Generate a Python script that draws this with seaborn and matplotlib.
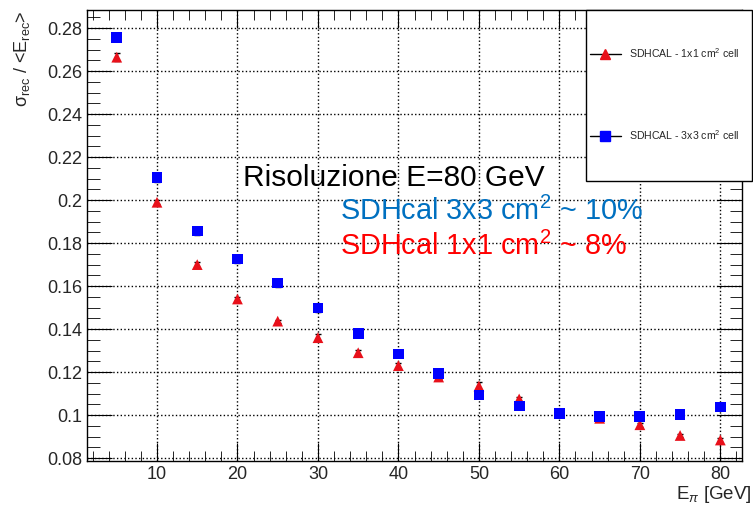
import seaborn as sns
import matplotlib.pyplot as plt
from matplotlib.ticker import MultipleLocator
from matplotlib.patches import Rectangle
import pandas as pd

# beam energies (GeV)
energy = [5, 10, 15, 20, 25, 30, 35, 40, 45, 50, 55, 60, 65, 70, 75, 80]

# resolution, 1x1 cm2 cells (red triangles)
res_1x1 = [0.2665, 0.199, 0.170, 0.154, 0.1437, 0.136, 0.129, 0.123,
           0.1177, 0.1135, 0.1075, 0.101, 0.0985, 0.0955, 0.0905, 0.0884]
err_1x1 = [0.002, 0.001, 0.001, 0.001, 0.0007, 0.0015, 0.0015, 0.001,
           0.001, 0.002, 0.001, 0.001, 0.0007, 0.001, 0.0007, 0.0007]

# resolution, 3x3 cm2 cells (blue squares)
res_3x3 = [0.2758, 0.2105, 0.1856, 0.1726, 0.1614, 0.1498, 0.1381, 0.1284,
           0.1193, 0.1093, 0.1042, 0.1009, 0.0993, 0.0993, 0.1003, 0.1037]
err_3x3 = [0.002, 0.002, 0.002, 0.002, 0.002, 0.002, 0.002, 0.001,
           0.001, 0.001, 0.001, 0.001, 0.001, 0.001, 0.001, 0.0015]

labels = ["SDHCAL - 1x1 cm$^2$ cell", "SDHCAL - 3x3 cm$^2$ cell"]
df = pd.DataFrame({"E": energy * 2,
                   "res": res_1x1 + res_3x3,
                   "cell": [labels[0]] * len(energy) + [labels[1]] * len(energy)})

sns.set_style("ticks")
plt.rcParams["font.family"] = ["Liberation Sans", "DejaVu Sans"]
plt.rcParams["mathtext.fontset"] = "custom"
plt.rcParams["mathtext.rm"] = "Liberation Sans"
plt.rcParams["mathtext.it"] = "Liberation Sans:italic"

fig = plt.figure(figsize=(7.53, 5.05), dpi=100)
ax = fig.add_axes([0.1155, 0.087, 0.870, 0.893])

# error bars
ax.errorbar(energy, res_1x1, yerr=err_1x1, fmt="none", ecolor="black",
            elinewidth=1, capsize=2.5, zorder=2)
ax.errorbar(energy, res_3x3, yerr=err_3x3, fmt="none", ecolor="black",
            elinewidth=1, capsize=2.5, zorder=2)

sns.scatterplot(data=df, x="E", y="res", hue="cell", style="cell",
                palette=["#e8101a", "#0000ff"], markers=["^", "s"],
                s=[60], linewidth=0, legend=False, ax=ax, zorder=3)

ax.set_xlim(1.3, 82.7)
ax.xaxis.set_major_locator(MultipleLocator(10))
ax.xaxis.set_minor_locator(MultipleLocator(2))
ax.yaxis.set_major_locator(MultipleLocator(0.02))
ax.yaxis.set_minor_locator(MultipleLocator(0.005))
ax.set_ylim(0.0786, 0.2884)
ax.yaxis.set_major_formatter(lambda v, pos: f"{v:g}")
ax.tick_params(which="both", direction="in", top=True, right=True,
               labelsize=13, color="black")
ax.tick_params(axis="x", which="major", length=13)
ax.tick_params(axis="x", which="minor", length=7)
ax.tick_params(axis="y", which="major", length=18)
ax.tick_params(axis="y", which="minor", length=9)
ax.grid(True, which="major", linestyle=":", color="black", linewidth=1)
for sp in ax.spines.values():
    sp.set_color("black")
    sp.set_linewidth(1)

ax.set_xlabel("E$_{\\pi}$ [GeV]", fontsize=13.5, loc="right")
ax.xaxis.set_label_coords(1.015, -0.05)
ax.set_ylabel("σ$_{\\mathrm{rec}}$ / <E$_{\\mathrm{rec}}$>", fontsize=13,
              loc="top", labelpad=11)

# legend box in the upper right corner
h1 = plt.Line2D([], [], color="black", lw=1, marker="^", ms=6.5,
                mfc="#e8101a", mec="#e8101a")
h2 = plt.Line2D([], [], color="black", lw=1, marker="s", ms=7,
                mfc="#0000ff", mec="#0000ff")
fig.add_artist(Rectangle((0.778, 0.6416), 0.2205, 0.3386, transform=fig.transFigure,
                         facecolor="white", edgecolor="black", lw=1, zorder=4))
leg = fig.legend([h1, h2], labels, loc="upper left",
                 bbox_to_anchor=(0.783, 0.909), borderaxespad=0, borderpad=0,
                 fontsize=7.6, labelspacing=6.5, handlelength=3.0,
                 handletextpad=0.75, frameon=False)
leg.set_zorder(5)

# annotation
ax.text(0.238, 0.610, "Risoluzione E=80 GeV", transform=ax.transAxes,
        fontsize=21.5, color="black", va="baseline", ha="left")
ax.text(0.386, 0.534, "SDHcal 3x3 cm$^2$ ~ 10%", transform=ax.transAxes,
        fontsize=20.8, color="#0070c0", va="baseline", ha="left")
ax.text(0.386, 0.457, "SDHcal 1x1 cm$^2$ ~ 8%", transform=ax.transAxes,
        fontsize=20.8, color="#ff0000", va="baseline", ha="left")

fig.savefig("out.png", dpi=100)
